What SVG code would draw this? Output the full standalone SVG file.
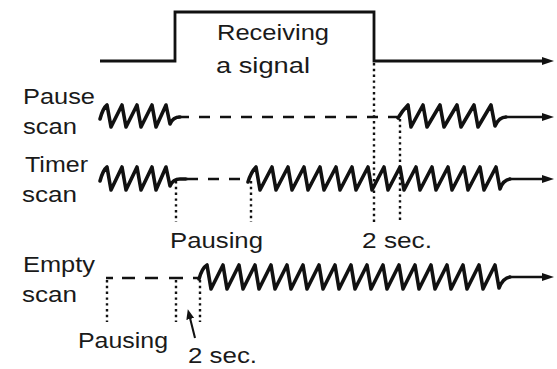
<svg xmlns="http://www.w3.org/2000/svg" width="557" height="369" viewBox="0 0 557 369">
<style>
text{font-family:"Liberation Sans",Arial,sans-serif;font-size:22px;fill:#1a1a1a}
.w{fill:none;stroke:#111;stroke-width:3.6;stroke-linejoin:round;stroke-linecap:round}
.sig{fill:none;stroke:#111;stroke-width:2.8}
.ln{fill:none;stroke:#111;stroke-width:2.6}
.dash{fill:none;stroke:#111;stroke-width:2.6;stroke-dasharray:11 10}
.dot{fill:none;stroke:#111;stroke-width:2.4;stroke-dasharray:2.4 3.4}
</style>
<defs>
<marker id="ah" viewBox="0 0 12 8" markerWidth="12" markerHeight="8" refX="1" refY="4" orient="auto" markerUnits="userSpaceOnUse">
<path d="M0,0 L12,4 L0,8 z" fill="#111"/>
</marker>
<marker id="ah3" viewBox="0 0 10 8" markerWidth="10" markerHeight="8" refX="1" refY="4" orient="auto" markerUnits="userSpaceOnUse">
<path d="M0,0 L10,4 L0,8 z" fill="#111"/>
</marker>
</defs>
<rect width="557" height="369" fill="#fff"/>

<g id="signal">
<path class="sig" d="M100,61 H175 V12 H374 V61 H543" marker-end="url(#ah)"/>
<text x="217" y="40" textLength="112" lengthAdjust="spacingAndGlyphs">Receiving</text>
<text x="216" y="73" textLength="94" lengthAdjust="spacingAndGlyphs">a signal</text>
</g>

<g id="pause-scan">
<text x="23" y="104" textLength="72" lengthAdjust="spacingAndGlyphs">Pause</text>
<text x="23" y="134" textLength="54" lengthAdjust="spacingAndGlyphs">scan</text>
<path class="w" d="M100,119 Q103,108 107,105 L111,127 L122,105 L126,127 L137,105 L141,127 L152,105 L156,127 L166,105 L170,124 Q173,117 180,117"/>
<path class="dash" d="M178,117 H397"/>
<path class="w" d="M398,118 Q402,111 408,105 L411,127 L423,105 L427,127 L440,105 L444,127 L457,105 L461,127 L474,105 L478,127 L491,105 L495,126 Q499,117 506,117"/>
<path class="ln" d="M505,117 H543" marker-end="url(#ah)"/>
</g>

<g id="timer-scan">
<text x="25" y="172" textLength="63" lengthAdjust="spacingAndGlyphs">Timer</text>
<text x="22" y="202" textLength="55" lengthAdjust="spacingAndGlyphs">scan</text>
<path class="w" d="M100,181 Q103,170 107,167 L111,190 L122,167 L126,190 L137,167 L141,190 L152,167 L156,190 L166,167 L170,186 Q173,179 180,179 L186,179"/>
<path class="dash" d="M187,179 H247"/>
<path class="w" d="M248,182 Q251,172 256,167 L260,190 L272,167 L276,190 L288,167 L292,190 L304,167 L308,190 L320,167 L324,190 L336,167 L340,190 L352,167 L356,190 L368,167 L372,190 L384,167 L388,190 L400,167 L404,190 L416,167 L420,190 L432,167 L436,190 L448,167 L452,190 L464,167 L468,190 L480,167 L484,190 L496,167 L500,189 Q503,180 510,179"/>
<path class="ln" d="M509,179 H543" marker-end="url(#ah)"/>
<text x="170" y="248" textLength="93" lengthAdjust="spacingAndGlyphs">Pausing</text>
<text x="362" y="248" textLength="70" lengthAdjust="spacingAndGlyphs">2 sec.</text>
</g>

<g id="empty-scan">
<text x="23" y="272" textLength="72" lengthAdjust="spacingAndGlyphs">Empty</text>
<text x="22" y="302" textLength="55" lengthAdjust="spacingAndGlyphs">scan</text>
<path class="ln" d="M106,278 H113 M122,278 H135 M145,278 H158 M169,278 H183 M193,278 H200"/>
<path class="w" d="M199,279 Q202,268 207,265 L211,289 L223,265 L227,289 L239,265 L243,289 L255,265 L259,289 L271,265 L275,289 L287,265 L291,289 L303,265 L307,289 L319,265 L323,289 L335,265 L339,289 L351,265 L355,289 L367,265 L371,289 L383,265 L387,289 L399,265 L403,289 L415,265 L419,289 L431,265 L435,289 L447,265 L451,289 L463,265 L467,289 L479,265 L483,289 L495,265 L499,288 Q503,278 510,277"/>
<path class="ln" d="M509,277 H543" marker-end="url(#ah)"/>
<text x="78" y="348" textLength="90" lengthAdjust="spacingAndGlyphs">Pausing</text>
<text x="188" y="363" textLength="69" lengthAdjust="spacingAndGlyphs">2 sec.</text>
</g>

<g id="connectors">
<path class="dot" d="M374,63 V222"/>
<path class="dot" d="M400,119 V222"/>
<path class="dot" d="M176,181 V222"/>
<path class="dot" d="M251,181 V222"/>
<path class="dot" d="M107,280 V322"/>
<path class="dot" d="M176,280 V322"/>
<path class="dot" d="M200,280 V322"/>
<path class="ln" style="stroke-width:2" d="M195,338 L190,318" marker-end="url(#ah3)"/>
</g>
</svg>
